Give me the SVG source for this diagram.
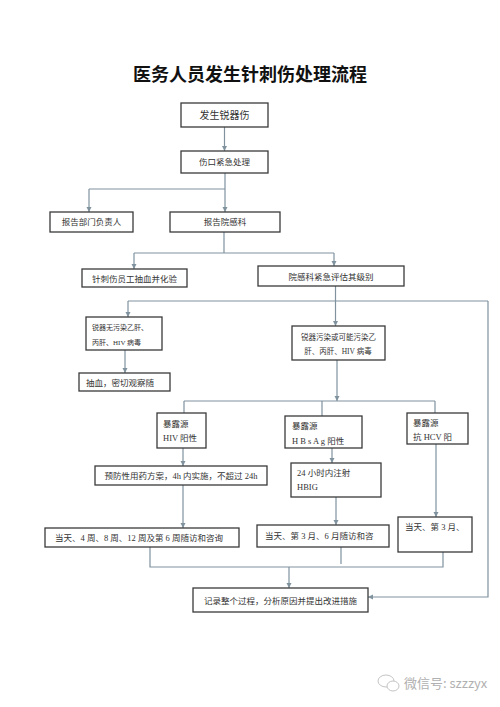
<svg xmlns="http://www.w3.org/2000/svg" width="500" height="707" viewBox="0 0 500 707">
<style>
.box{fill:#fff;stroke:#3a3a3a;stroke-width:1.3}
.t{font-family:"Liberation Serif","Noto Sans CJK SC",serif;font-size:8.5px;fill:#333}
.c{text-anchor:middle}
.ln{fill:none;stroke:#7f929e;stroke-width:1.2}
.ar{marker-end:url(#ah)}
</style>
<defs>
<marker id="ah" markerUnits="userSpaceOnUse" markerWidth="6" markerHeight="6" refX="5" refY="3" orient="auto">
<path d="M0,0.5 L5,3 L0,5.5 Z" fill="#7f929e"/>
</marker>
</defs>
<rect width="500" height="707" fill="#fff"/>
<text x="250" y="81" text-anchor="middle" style="font-family:'Noto Sans CJK SC',sans-serif;font-size:18px;font-weight:bold;fill:#111">医务人员发生针刺伤处理流程</text>

<g id="connectors">
<path class="ln ar" d="M224.5,127 V151"/>
<path class="ln" d="M225,173 V189 M89,189 H225"/>
<path class="ln ar" d="M89,189 V212"/>
<path class="ln ar" d="M225,189 V212"/>
<path class="ln" d="M224,232 V253 M134,253 H334"/>
<path class="ln ar" d="M134,253 V269"/>
<path class="ln ar" d="M334,253 V266"/>
<path class="ln" d="M128,301 H488"/>
<path class="ln ar" d="M335.5,286 V326"/>
<path class="ln ar" d="M128,301 V317"/>
<path class="ln ar" d="M488,301 V597 H368"/>
<path class="ln ar" d="M125,350 V373"/>
<path class="ln ar" d="M337,360 V401"/>
<path class="ln" d="M184,401 H435 M184,401 V413 M322,401 V416 M435,401 V413"/>
<path class="ln ar" d="M183,448 V466"/>
<path class="ln ar" d="M183,485 V528"/>
<path class="ln ar" d="M332,448 V463"/>
<path class="ln ar" d="M336,497 V525"/>
<path class="ln ar" d="M436,444 V517"/>
<path class="ln" d="M150,547 V567 H443 V552 M341,547 V564"/>
<path class="ln ar" d="M289,567 V588"/>
</g>

<g id="n1"><rect class="box" x="181" y="103" width="87" height="24"/><text class="t c" x="224.5" y="119" style="font-size:10px">发生锐器伤</text></g>
<g id="n2"><rect class="box" x="181" y="151" width="87" height="22"/><text class="t c" x="224.5" y="165">伤口紧急处理</text></g>
<g id="n3"><rect class="box" x="50" y="212" width="83" height="20"/><text class="t c" x="91.5" y="225">报告部门负责人</text></g>
<g id="n4"><rect class="box" x="170" y="212" width="110" height="20"/><text class="t c" x="225" y="225">报告院感科</text></g>
<g id="n5"><rect class="box" x="82" y="269" width="105" height="18"/><text class="t c" x="134.5" y="281.5">针刺伤员工抽血并化验</text></g>
<g id="n6"><rect class="box" x="258" y="266" width="146" height="20"/><text class="t c" x="331" y="279.5">院感科紧急评估其级别</text></g>
<g id="n7"><rect class="box" x="86" y="317" width="76" height="33"/><text class="t" x="92" y="330" style="font-size:7px">锐器无污染乙肝、</text><text class="t" x="92" y="345" style="font-size:7px">丙肝、HIV 病毒</text></g>
<g id="n8"><rect class="box" x="79" y="373" width="91" height="18"/><text class="t" x="86" y="385.5">抽血，密切观察随</text></g>
<g id="n9"><rect class="box" x="292" y="326" width="93" height="34"/><text class="t c" x="338.5" y="340" style="font-size:7.5px">锐器污染或可能污染乙</text><text class="t c" x="338" y="354" style="font-size:7.5px">肝、丙肝、HIV 病毒</text></g>
<g id="n10"><rect class="box" x="157" y="413" width="49" height="35"/><text class="t" x="163" y="427">暴露源</text><text class="t" x="163" y="441">HIV 阳性</text></g>
<g id="n11"><rect class="box" x="285" y="416" width="77" height="32"/><text class="t" x="292" y="429">暴露源</text><text class="t" x="292" y="444">H B s A g 阳性</text></g>
<g id="n12"><rect class="box" x="407" y="413" width="61" height="31"/><text class="t" x="413" y="426">暴露源</text><text class="t" x="413" y="440">抗 HCV 阳</text></g>
<g id="n13"><rect class="box" x="95" y="466" width="172" height="19"/><text class="t c" x="181" y="479">预防性用药方案，4h 内实施，不超过 24h</text></g>
<g id="n14"><rect class="box" x="291" y="463" width="90" height="34"/><text class="t" x="297" y="476">24 小时内注射</text><text class="t" x="297" y="490">HBIG</text></g>
<g id="n15"><rect class="box" x="45" y="528" width="194" height="19"/><text class="t c" x="139" y="541">当天、4 周、8 周、12 周及第 6 周随访和咨询</text></g>
<g id="n16"><rect class="box" x="257" y="525" width="132" height="22"/><text class="t" x="265" y="538.5">当天、第 3 月、6 月随访和咨</text></g>
<g id="n17"><rect class="box" x="398" y="517" width="74" height="35"/><text class="t" x="405" y="530">当天、第 3 月、</text></g>
<g id="n18"><rect class="box" x="193" y="588" width="175" height="24"/><text class="t c" x="280.5" y="603.5">记录整个过程，分析原因并提出改进措施</text></g>

<g id="watermark">
<ellipse cx="386" cy="681" rx="8" ry="6" fill="none" stroke="#c4c4c4" stroke-width="1"/>
<ellipse cx="393" cy="686" rx="6" ry="5" fill="#fff" stroke="#c4c4c4" stroke-width="1"/>
<text x="404" y="688" style="font-family:'Noto Sans CJK SC',sans-serif;font-size:13px;fill:#b0b0b0">微信号: szzzyx</text>
</g>
</svg>
